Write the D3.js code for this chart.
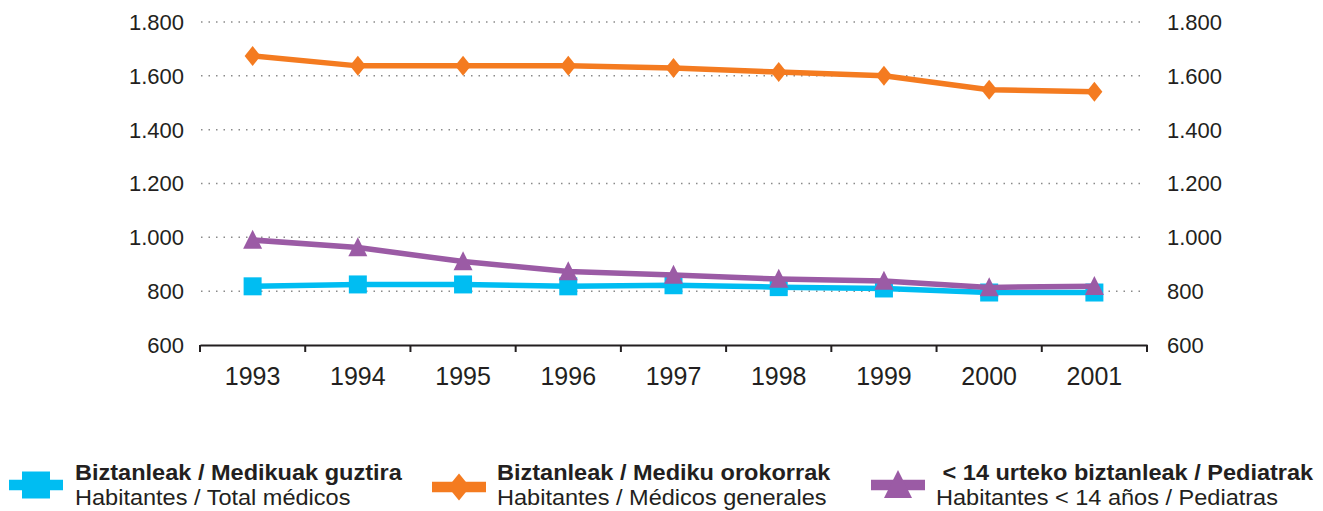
<!DOCTYPE html>
<html>
<head>
<meta charset="utf-8">
<script src="https://d3js.org/d3.v7.min.js"></script>
<style>
  body { margin: 0; background: #fff; }
  svg text { font-family: "Liberation Sans", Arial, sans-serif; fill: #231f20; }
</style>
</head>
<body>
<div id="grafico"></div>
<script>
// datos
var anos = ["1993", "1994", "1995", "1996", "1997", "1998", "1999", "2000", "2001"];
var totalMedicos = [818, 825, 825, 818, 822, 815, 810, 795, 795];
var medicosGenerales = [1674, 1637, 1637, 1637, 1629, 1614, 1600, 1548, 1541];
var pediatras = [990, 962, 910, 873, 860, 845, 838, 814, 818];
var ticksY = [600, 800, 1000, 1200, 1400, 1600, 1800];

var series = [
  { valores: totalMedicos, color: "#00bdf2", marca: "cuadrado",
    l1: "Biztanleak / Medikuak guztira", l2: "Habitantes / Total médicos" },
  { valores: medicosGenerales, color: "#f47b20", marca: "rombo",
    l1: "Biztanleak / Mediku orokorrak", l2: "Habitantes / Médicos generales" },
  { valores: pediatras, color: "#9b5ba5", marca: "triangulo",
    l1: " < 14 urteko biztanleak / Pediatrak", l2: "Habitantes < 14 años / Pediatras" }
];

var ancho = 1323, alto = 511;
var margin = { left: 200, right: 176, top: 22, bottom: 166 };

var svg = d3.select("#grafico").append("svg")
  .attr("width", ancho).attr("height", alto);

var x = d3.scaleBand().domain(anos).range([margin.left, ancho - margin.right]);
var y = d3.scaleLinear().domain([600, 1800]).range([alto - margin.bottom, margin.top]);

var fmt = function(d) { return d3.format(",")(d).replace(",", "."); };

// lineas de rejilla punteadas
svg.append("g").selectAll("line")
  .data(ticksY.filter(d => d > 600))
  .enter().append("line")
  .attr("x1", margin.left + 1).attr("x2", ancho - margin.right - 1)
  .attr("y1", d => y(d)).attr("y2", d => y(d))
  .attr("stroke", "#8a8a8a").attr("stroke-width", 1.5)
  .attr("stroke-dasharray", "1.5,6");

// eje izquierdo y derecho (solo texto)
svg.append("g").selectAll("text").data(ticksY).enter().append("text")
  .attr("x", margin.left - 16).attr("y", d => y(d)).attr("dy", "0.36em")
  .attr("text-anchor", "end").style("font-size", "22px").text(fmt);
svg.append("g").selectAll("text").data(ticksY).enter().append("text")
  .attr("x", ancho - margin.right + 20).attr("y", d => y(d)).attr("dy", "0.36em")
  .attr("text-anchor", "start").style("font-size", "22px").text(fmt);

// eje x
var ejeX = svg.append("g")
  .attr("transform", "translate(0," + y(600) + ")")
  .call(d3.axisBottom(x).tickSize(0).tickPadding(22));
ejeX.select(".domain").attr("stroke", "#231f20").attr("stroke-width", 2.2);
ejeX.selectAll(".tick text").style("font-size", "25px")
  .style("font-family", "'Liberation Sans', Arial, sans-serif").attr("fill", "#231f20")
  .attr("dy", "0.71em");
var bordes = anos.map(d => x(d)).concat([x(anos[anos.length - 1]) + x.bandwidth()]);
ejeX.selectAll("line.borde").data(bordes).enter().append("line")
  .attr("class", "borde")
  .attr("x1", d => d).attr("x2", d => d).attr("y1", 0).attr("y2", 7)
  .attr("stroke", "#231f20").attr("stroke-width", 2);

function marcaPath(tipo, w, h) {
  if (tipo === "cuadrado") return "M" + (-w/2) + "," + (-h/2) + "h" + w + "v" + h + "h" + (-w) + "Z";
  if (tipo === "rombo") return "M0," + (-h/2) + "L" + (w/2) + ",0L0," + (h/2) + "L" + (-w/2) + ",0Z";
  return "M0," + (-h*0.54) + "L" + (w/2) + "," + (h*0.46) + "L" + (-w/2) + "," + (h*0.46) + "Z";
}
var tamMarca = { cuadrado: [18, 18], rombo: [16, 20], triangulo: [19, 19] };
var tamLeyenda = { cuadrado: [28, 27], rombo: [22, 27], triangulo: [28, 28] };

var linea = d3.line()
  .x((d, i) => x(anos[i]) + x.bandwidth() / 2)
  .y(d => y(d));

// dibujar series: azul, naranja, morado (morado encima)
series.forEach(function(s) {
  svg.append("path").datum(s.valores)
    .attr("d", linea).attr("fill", "none")
    .attr("stroke", s.color).attr("stroke-width", 5.5)
    .attr("stroke-linejoin", "round");
  var t = tamMarca[s.marca];
  svg.append("g").selectAll("path").data(s.valores).enter().append("path")
    .attr("transform", (d, i) => "translate(" + (x(anos[i]) + x.bandwidth() / 2) + "," + y(d) + ")")
    .attr("d", marcaPath(s.marca, t[0], t[1]))
    .attr("fill", s.color);
});

// leyenda
var posLeyenda = [
  { sx: 9, cy: 485, tx: 75, tx2: 75 },
  { sx: 432, cy: 487, tx: 497, tx2: 497 },
  { sx: 871, cy: 485, tx: 936, tx2: 936 }
];
series.forEach(function(s, i) {
  var p = posLeyenda[i];
  var g = svg.append("g");
  var t = tamLeyenda[s.marca];
  g.append("line").attr("x1", p.sx).attr("x2", p.sx + 54)
    .attr("y1", p.cy).attr("y2", p.cy)
    .attr("stroke", s.color).attr("stroke-width", 10.5);
  g.append("path")
    .attr("transform", "translate(" + (p.sx + 27) + "," + p.cy + ")")
    .attr("d", marcaPath(s.marca, t[0], t[1]))
    .attr("fill", s.color);
  g.append("text").attr("transform", "translate(" + p.tx + ",480) scale(1.07,1)")
    .style("font-size", "22px").style("font-weight", "bold")
    .style("white-space", "pre").text(s.l1);
  g.append("text").attr("transform", "translate(" + p.tx2 + ",505) scale(1.07,1)")
    .style("font-size", "22px").text(s.l2);
});
</script>
</body>
</html>
